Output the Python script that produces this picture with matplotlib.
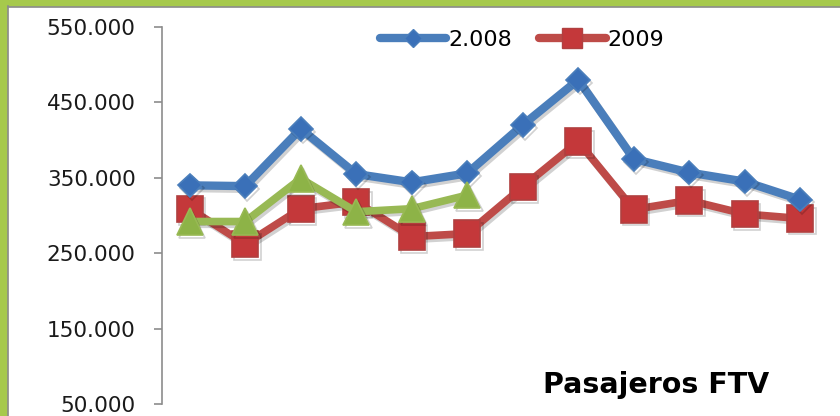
import matplotlib
matplotlib.use("Agg")
import matplotlib.pyplot as plt
import matplotlib.patheffects as pe
from matplotlib.lines import Line2D
from matplotlib.patches import Rectangle

months = list(range(1, 13))
serie_2008 = [340, 339, 415, 355, 344, 356, 420, 480, 375, 357, 345, 321]
serie_2009 = [309, 262, 309, 318, 272, 276, 338, 398, 308, 320, 302, 296]
serie_2010 = [292, 292, 349, 305, 309, 327]
yticks = [50, 150, 250, 350, 450, 550]
ytick_labels = ["50.000", "150.000", "250.000", "350.000", "450.000", "550.000"]

BLUE_LINE = "#4A7EBB"
BLUE_MK = "#3A70B8"
RED_LINE = "#BE4B48"
RED_MK = "#C4383A"
GREEN_LINE = "#98B954"
GREEN_MK = "#8DB347"

fig = plt.figure(figsize=(8.4, 4.16), dpi=100)
fig.patch.set_facecolor("white")

# green frame (left and top)
fig.patches.append(Rectangle((0, 0), 7/840, 1, transform=fig.transFigure, color="#A6C94C", zorder=0))
fig.patches.append(Rectangle((0, 1 - 6/416), 1, 6/416, transform=fig.transFigure, color="#A6C94C", zorder=0))
fig.lines.append(Line2D([7.5/840, 7.5/840], [0, 1 - 6/416], transform=fig.transFigure, color="#8C8C8C", lw=1.2))
fig.lines.append(Line2D([7.5/840, 1], [1 - 6.5/416, 1 - 6.5/416], transform=fig.transFigure, color="#8C8C8C", lw=1.2))

ax = fig.add_axes([162/840, 1 - 404/416, (828 - 162)/840, (404 - 27)/416])
ax.set_xlim(0.5, 12.5)
ax.set_ylim(50, 550)

shadow = [pe.SimpleLineShadow(offset=(1.5, -2), shadow_color="black", alpha=0.18), pe.Normal()]

ax.plot(months, serie_2009, color=RED_LINE, lw=5.5, marker="s", markersize=19,
        markerfacecolor=RED_MK, markeredgecolor="#B04040", markeredgewidth=1.2,
        zorder=3, path_effects=shadow)
ax.plot(months, serie_2008, color=BLUE_LINE, lw=6, marker="D", markersize=12,
        markerfacecolor=BLUE_MK, markeredgecolor=BLUE_LINE, markeredgewidth=1.2,
        zorder=4, path_effects=shadow)
ax.plot(months[:len(serie_2010)], serie_2010, color=GREEN_LINE, lw=5.5, marker="^", markersize=19,
        markerfacecolor=GREEN_MK, markeredgecolor=GREEN_LINE, markeredgewidth=1.2,
        zorder=5, path_effects=shadow)

ax.set_yticks(yticks)
ax.set_yticklabels(ytick_labels, fontsize=15.5, fontfamily="DejaVu Sans", color="#1a1a1a")
ax.set_xticks([])
for s in ["top", "right", "bottom"]:
    ax.spines[s].set_visible(False)
ax.spines["left"].set_color("#8C8C8C")
ax.spines["left"].set_linewidth(1.2)
ax.tick_params(axis="y", direction="out", length=6, width=1.2, color="#8C8C8C", pad=13)

handles = [
    Line2D([], [], color=BLUE_LINE, lw=6, marker="D", markersize=9, markerfacecolor=BLUE_MK,
           markeredgecolor=BLUE_LINE, solid_capstyle="round"),
    Line2D([], [], color=RED_LINE, lw=6, marker="s", markersize=15, markerfacecolor=RED_MK,
           markeredgecolor="#B04040", solid_capstyle="round"),
]
leg = fig.legend(handles, ["2.008", "2009"], loc="center", bbox_to_anchor=(522/840, 1 - 40/416),
                 ncol=2, frameon=False, prop={"family": "DejaVu Sans", "size": 16},
                 handlelength=3.0, handletextpad=0.1, columnspacing=1.2)

fig.text(543/840, 1 - 393/416, "Pasajeros FTV", fontsize=20.5, fontweight="bold",
         fontfamily="DejaVu Sans", ha="left", va="baseline", color="black")

fig.savefig("out.png", dpi=100)
